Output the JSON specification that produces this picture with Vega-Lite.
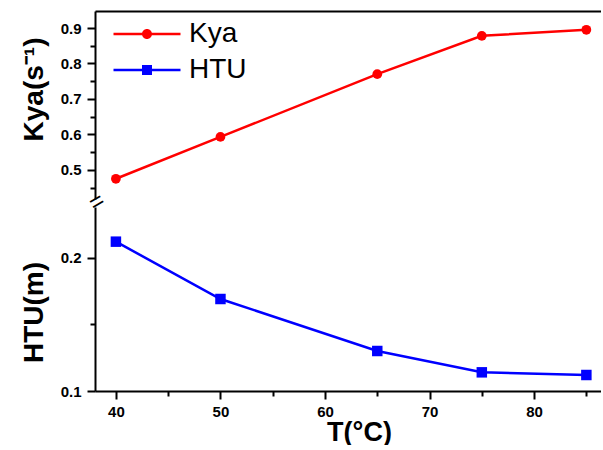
{
  "$schema": "https://vega.github.io/schema/vega-lite/v6.json",
  "padding": {"left": 20, "top": 11, "right": 0, "bottom": 0},
  "spacing": 8,
  "bounds": "flush",
  "config": {
    "view": {"stroke": null},
    "font": "Liberation Sans",
    "axis": {
      "grid": false,
      "domainColor": "black",
      "domainWidth": 2,
      "tickColor": "black",
      "tickWidth": 2,
      "labelFont": "Liberation Sans",
      "labelFontWeight": "bold",
      "labelFontSize": 15,
      "labelColor": "black",
      "labelOverlap": false,
      "titleFont": "Liberation Sans",
      "titleFontWeight": "bold",
      "titleFontSize": 28,
      "titleColor": "black"
    }
  },
  "datasets": {
    "kya": [
      {"T": 40, "Kya": 0.475},
      {"T": 50, "Kya": 0.593},
      {"T": 65, "Kya": 0.770},
      {"T": 75, "Kya": 0.878},
      {"T": 85, "Kya": 0.895}
    ],
    "htu": [
      {"T": 40, "HTU": 0.212},
      {"T": 50, "HTU": 0.169},
      {"T": 65, "HTU": 0.130},
      {"T": 75, "HTU": 0.114},
      {"T": 85, "HTU": 0.112}
    ],
    "series": [
      {"series": "Kya"},
      {"series": "HTU"}
    ],
    "brk": [
      {"T": 38, "Kya": 0.418, "label": "="}
    ]
  },
  "vconcat": [
    {
      "width": 506,
      "height": 188,
      "encoding": {
        "x": {
          "field": "T", "type": "quantitative",
          "scale": {"domain": [38, 86.4], "nice": false, "zero": false},
          "axis": {"orient": "top", "labels": false, "ticks": false, "title": null}
        },
        "y": {
          "field": "Kya", "type": "quantitative",
          "scale": {"domain": [0.418, 0.948], "nice": false, "zero": false},
          "axis": {
            "values": [0.45, 0.5, 0.55, 0.6, 0.65, 0.7, 0.75, 0.8, 0.85, 0.9],
            "labelExpr": "abs(datum.value*10 - round(datum.value*10)) > 0.01 ? '' : format(datum.value, '.1f')",
            "tickSize": {"condition": {"test": "abs(datum.value*10 - round(datum.value*10)) > 0.01", "value": 5}, "value": 8},
            "labelPadding": 6,
            "title": "Kya(s⁻¹)",
            "titlePadding": 12,
            "titleY": 78
          }
        }
      },
      "layer": [
        {
          "data": {"name": "kya"},
          "mark": {"type": "line", "color": "#ff0000", "strokeWidth": 2.5}
        },
        {
          "data": {"name": "kya"},
          "mark": {"type": "point", "shape": "circle", "filled": true, "color": "#ff0000", "size": 95, "opacity": 1}
        },
        {
          "data": {"name": "brk"},
          "mark": {"type": "text", "fontSize": 24, "angle": -30, "align": "center", "baseline": "middle", "dy": 4, "color": "black"},
          "encoding": {
            "text": {"field": "label"}
          }
        },
        {
          "data": {"name": "series"},
          "mark": {"type": "point", "filled": true, "opacity": 0, "size": 100},
          "encoding": {
            "x": {"value": 200},
            "y": {"value": 100},
            "color": {
              "field": "series", "type": "nominal",
              "scale": {"domain": ["Kya", "HTU"], "range": ["#ff0000", "#0000ff"]},
              "legend": {"title": null, "orient": "none", "legendX": 38, "legendY": 9, "labelFontSize": 28, "labelFont": "Liberation Sans", "labelColor": "black", "labelOffset": 28, "symbolOpacity": 1, "symbolStrokeWidth": 0, "symbolSize": 100, "rowPadding": 8, "padding": 0}
            },
            "shape": {
              "field": "series", "type": "nominal",
              "scale": {"domain": ["Kya", "HTU"], "range": ["M-6.7,-0.25H6.7V0.25H-6.7Z M1,0A1,1 0 1,1 -1,0A1,1 0 1,1 1,0Z", "M-6.7,-0.25H6.7V0.25H-6.7Z M-1,-1H1V1H-1Z"]},
              "legend": {"title": null, "orient": "none", "legendX": 38, "legendY": 9, "labelFontSize": 28, "labelFont": "Liberation Sans", "labelColor": "black", "labelOffset": 28, "symbolOpacity": 1, "symbolStrokeWidth": 0, "symbolSize": 100, "rowPadding": 8, "padding": 0}
            }
          }
        }
      ]
    },
    {
      "width": 506,
      "height": 184,
      "layer": [
        {
          "data": {"name": "htu"},
          "mark": {"type": "line", "color": "#0000ff", "strokeWidth": 2.5},
          "encoding": {
            "x": {
              "field": "T", "type": "quantitative",
              "scale": {"domain": [38, 86.4], "nice": false, "zero": false},
              "axis": {
                "values": [40, 45, 50, 55, 60, 65, 70, 75, 80, 85],
                "labelExpr": "datum.value % 10 != 0 ? '' : datum.label",
                "tickSize": {"condition": {"test": "datum.value % 10 != 0", "value": 5}, "value": 8},
                "labelPadding": 5,
                "title": "T(°C)",
                "titleFontSize": 27,
                "titleX": 264,
                "titlePadding": 0
              }
            },
            "y": {
              "field": "HTU", "type": "quantitative",
              "scale": {"domain": [0.1, 0.238], "nice": false, "zero": false},
              "axis": {
                "values": [0.1, 0.15, 0.2],
                "labelExpr": "abs(datum.value*10 - round(datum.value*10)) > 0.01 ? '' : format(datum.value, '.1f')",
                "tickSize": {"condition": {"test": "abs(datum.value*10 - round(datum.value*10)) > 0.01", "value": 5}, "value": 8},
                "labelPadding": 6,
                "title": "HTU(m)",
                "titlePadding": 12,
                "titleY": 105
              }
            }
          }
        },
        {
          "data": {"name": "htu"},
          "mark": {"type": "point", "shape": "square", "filled": true, "color": "#0000ff", "size": 110, "opacity": 1},
          "encoding": {
            "x": {"field": "T", "type": "quantitative"},
            "y": {"field": "HTU", "type": "quantitative"}
          }
        }
      ]
    }
  ]
}
